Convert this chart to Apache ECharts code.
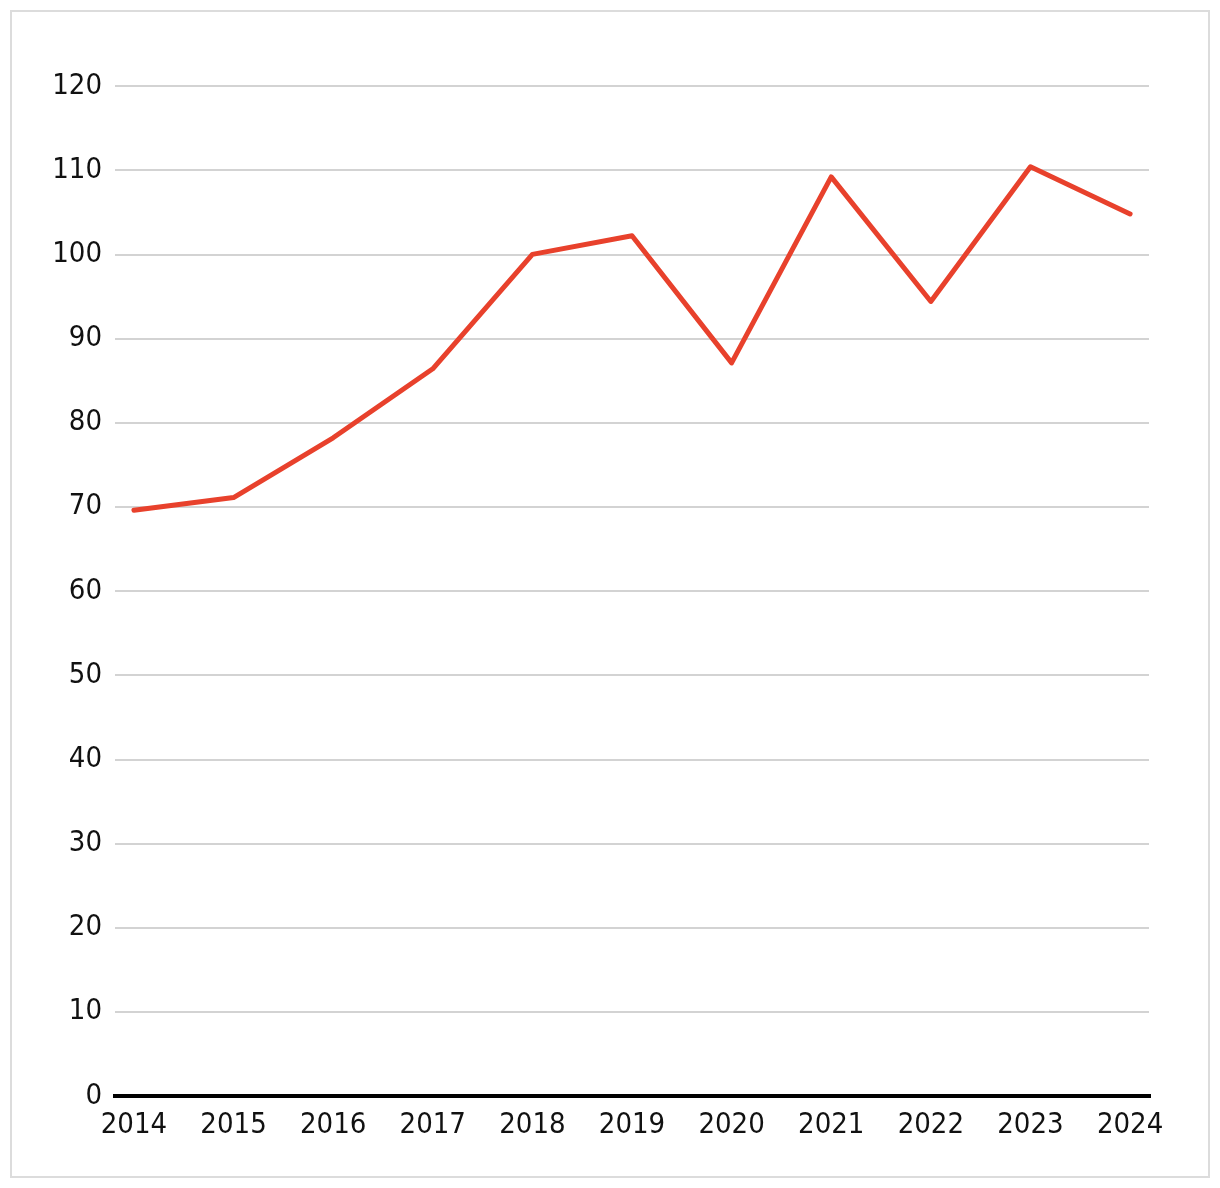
<!DOCTYPE html>
<html>
<head>
<meta charset="utf-8">
<script src="https://cdn.jsdelivr.net/npm/echarts@6/dist/echarts.min.js"></script>
<style>
  html, body { margin: 0; padding: 0; background: #fff; }
  #wrap { position: relative; width: 1220px; height: 1188px; }
  #chart { position: absolute; left: 0; top: 0; width: 1220px; height: 1188px; }
  #frame {
    position: absolute; left: 10px; top: 10px; width: 1200px; height: 1168px;
    box-sizing: border-box; border: 2px solid #dcdcdc; pointer-events: none;
  }
</style>
</head>
<body>
<div id="wrap">
  <div id="chart"></div>
  <div id="frame"></div>
</div>
<script>
const years = [2014, 2015, 2016, 2017, 2018, 2019, 2020, 2021, 2022, 2023, 2024]
const values = [69.6, 71.1, 78.2, 86.4, 100.0, 102.2, 87.1, 109.2, 94.4, 110.4, 104.8]
const yTicks = [0, 10, 20, 30, 40, 50, 60, 70, 80, 90, 100, 110, 120]

const labelFont = '"DejaVu Sans Condensed", "DejaVu Sans", sans-serif'

const chart = echarts.init(document.getElementById('chart'), null, { renderer: 'canvas' })

chart.setOption({
  animation: false,
  backgroundColor: '#fff',
  grid: { left: 115, right: 71, top: 86, bottom: 92, containLabel: false },
  xAxis: {
    type: 'value',
    min: 2013.81,
    max: 2024.19,
    splitLine: { show: false },
    axisTick: { show: false },
    axisLine: { show: true, onZero: true, lineStyle: { color: '#000', width: 4, cap: 'square' } },
    axisLabel: {
      customValues: years,
      formatter: v => String(v),
      color: '#111',
      fontSize: 29,
      fontFamily: labelFont,
      margin: 15
    }
  },
  yAxis: {
    type: 'value',
    min: yTicks[0],
    max: yTicks[yTicks.length - 1],
    interval: 10,
    axisLine: { show: false },
    axisTick: { show: false },
    splitLine: { lineStyle: { color: '#c4c4c4', width: 1.5 } },
    axisLabel: {
      color: '#111',
      fontSize: 29,
      fontFamily: labelFont,
      margin: 13,
      padding: [4, 0, 0, 0]
    }
  },
  series: [
    {
      type: 'line',
      data: years.map((y, i) => [y, values[i]]),
      showSymbol: false,
      lineStyle: { color: '#e8412c', width: 5, cap: 'round', join: 'round' },
      z: 3
    }
  ]
})
</script>
</body>
</html>
